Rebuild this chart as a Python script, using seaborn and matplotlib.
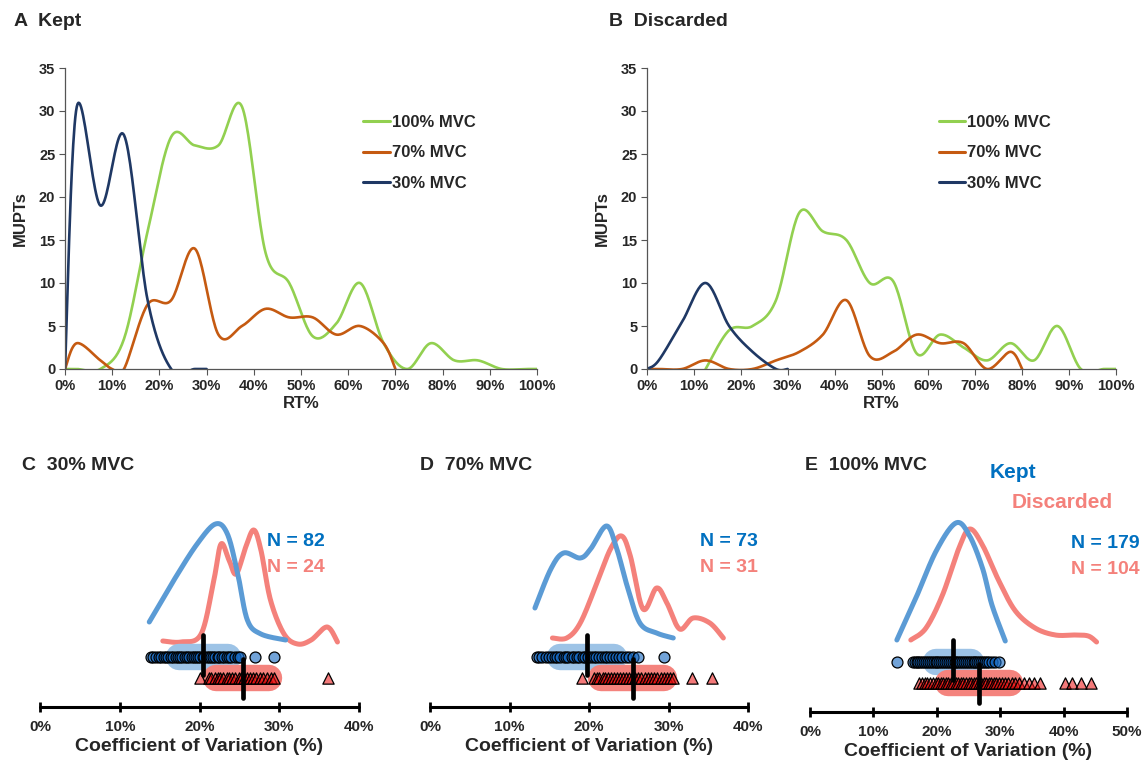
import numpy as np
import pandas as pd
import matplotlib
matplotlib.use("Agg")
import matplotlib.pyplot as plt
import seaborn as sns

# ---- top panels: MUPT counts per RT% bin ----
a_green_x = [0, 2.5, 7.5, 12.5, 17.5, 22.5, 27.5, 32.5, 37.5, 42.5, 47.5, 52.5, 57.5, 62.5, 67.5, 72.5, 77.5, 82.5, 87.5, 92.5, 97.5, 100]
a_green_y = [0, 0, 0, 3.5, 16, 27, 26, 26, 30.5, 13.5, 10, 3.8, 5.3, 10, 3, 0, 3, 1, 1, 0, 0, 0]
a_orange_x = [0, 2.5, 7.5, 10, 12.5, 17.5, 22.5, 27.5, 32.5, 37.5, 42.5, 47.5, 52.5, 57.5, 62.5, 67.5, 70]
a_orange_y = [0, 3, 1, 0, 0, 7.5, 8, 14, 4, 5, 7, 6, 6, 4, 5, 3, 0]
a_navy_x = [0, 2.5, 7.5, 12.5, 17.5, 22.5, 27.5, 30]
a_navy_y = [0, 30.5, 19, 27.2, 8, 0, 0, 0]

b_green_x = [12.5, 17.5, 22.5, 27.5, 32.5, 37.5, 42.5, 47.5, 52.5, 57.5, 62.5, 67.5, 72.5, 77.5, 82.5, 87.5, 92.5, 97.5, 100]
b_green_y = [0, 4.5, 5, 8, 18.2, 16, 15, 10, 10.2, 1.8, 4, 2.5, 1, 3, 1, 5, 0, 0, 0]
b_orange_x = [0, 2.5, 7.5, 12.5, 17.5, 22.5, 27.5, 32.5, 37.5, 42.5, 47.5, 52.5, 57.5, 62.5, 67.5, 72.5, 77.5, 80]
b_orange_y = [0, 0, 0, 1, 0, 0, 1, 2, 4, 8, 1.5, 2, 4, 3, 3, 0, 2, 0]
b_navy_x = [0, 2.5, 7.5, 12.5, 17.5, 22.5, 27.5, 30]
b_navy_y = [0, 1, 5.5, 10, 5, 2, 0, 0]

rt_ticks = [0, 10, 20, 30, 40, 50, 60, 70, 80, 90, 100]
mupt_ticks = [0, 5, 10, 15, 20, 25, 30, 35]

# ---- bottom panels: CV distributions (curve traces) ----
c_kept_cx = [13.7, 16.8, 19.7, 22.0, 23.5, 24.8, 26.0, 27.7, 30.8]
c_kept_cy = [85, 127, 163, 183, 173, 133, 87, 73, 67]
c_disc_cx = [15.4, 17.7, 20.2, 21.8, 22.7, 23.7, 24.6, 25.8, 26.8, 27.7, 28.9, 30.6, 32.3, 34.0, 36.0, 37.3]
c_disc_cy = [66, 65, 73, 127, 163, 147, 133, 160, 177, 157, 107, 73, 63, 67, 80, 65]
d_kept_cx = [13.2, 15.2, 16.8, 18.9, 20.2, 22.2, 23.5, 24.8, 26.4, 28.5, 30.6]
d_kept_cy = [99, 138, 154, 149, 158, 181, 158, 121, 84, 74, 69]
d_disc_cx = [15.4, 17.2, 18.9, 21.0, 22.7, 24.1, 25.2, 26.8, 28.5, 29.8, 31.4, 33.1, 35.2, 36.9]
d_disc_cy = [69, 69, 84, 124, 158, 171, 151, 98, 119, 104, 78, 89, 84, 69]
e_kept_cx = [13.7, 16.7, 19.9, 23.0, 25.1, 27.2, 28.7, 30.8]
e_kept_cy = [72, 114, 161, 189, 177, 144, 107, 71]
e_disc_cx = [15.9, 18.3, 20.9, 23.5, 25.2, 27.2, 29.8, 32.4, 35.5, 38.7, 41.8, 43.9, 45.2]
e_disc_cy = [72, 84, 117, 164, 183, 167, 131, 101, 84, 77, 77, 76, 70]

# individual CV values (read off the strips, overlapping ones estimated)
c_kept = [13.9, 14.2, 14.6, 14.9, 15.2, 15.5, 15.8, 16.1, 16.4, 16.7, 17.0, 17.3, 17.5, 17.8, 18.2, 18.4,
          18.7, 19.0, 19.3, 19.5, 19.8, 20.1, 20.4, 20.6, 20.9, 21.2, 21.4, 21.7, 22.0, 22.3, 22.5, 22.8,
          23.1, 23.4, 23.7, 24.0, 24.4, 24.8, 25.1, 27.0, 29.4]
c_disc = [20.0, 21.2, 21.5, 21.9, 22.3, 22.6, 23.0, 23.4, 23.7, 24.1, 24.5, 24.9, 25.2, 25.6, 26.0, 26.3,
          26.7, 27.1, 27.6, 28.0, 28.5, 29.0, 29.4, 36.1]
d_kept = [13.4, 13.7, 14.1, 14.6, 15.0, 15.3, 15.7, 16.0, 16.4, 16.8, 17.1, 17.4, 17.8, 18.1, 18.5, 18.8,
          19.2, 19.5, 19.9, 20.2, 20.6, 20.9, 21.3, 21.6, 22.0, 22.3, 22.7, 23.0, 23.4, 23.8, 24.2, 24.6,
          25.0, 25.5, 26.2, 29.4]
d_disc = [19.1, 20.6, 21.0, 21.3, 21.7, 22.0, 22.4, 22.8, 23.1, 23.5, 23.9, 24.3, 24.6, 25.0, 25.4, 25.8,
          26.2, 26.6, 27.0, 27.4, 27.8, 28.2, 28.6, 29.0, 29.4, 29.8, 30.2, 30.6, 33.0, 35.5]
e_kept = [13.7, 16.2, 16.5, 16.8, 17.1, 17.4, 17.7, 18.0, 18.3, 18.6, 18.9, 19.2, 19.5, 19.8, 20.1, 20.4,
          20.7, 21.0, 21.3, 21.6, 21.9, 22.2, 22.5, 22.8, 23.1, 23.4, 23.7, 24.0, 24.3, 24.6, 24.9, 25.2,
          25.5, 25.8, 26.1, 26.4, 26.7, 27.0, 27.3, 27.6, 27.9, 28.3, 28.7, 29.2, 29.8]
e_disc = [17.2, 17.6, 18.1, 18.5, 19.0, 19.4, 19.8, 20.2, 20.6, 21.0, 21.4, 21.8, 22.2, 22.6, 23.0, 23.4,
          23.8, 24.2, 24.6, 25.0, 25.4, 25.8, 26.2, 26.6, 27.0, 27.4, 27.8, 28.2, 28.6, 29.0, 29.4, 29.8,
          30.3, 30.8, 31.3, 31.8, 32.4, 33.0, 33.7, 34.5, 35.4, 36.3, 40.2, 41.4, 42.8, 44.3]

# mean and SD per group
c_mean = [20.5, 25.4]
c_sd = [3.1, 3.3]
d_mean = [19.7, 25.5]
d_sd = [3.4, 3.95]
e_mean = [22.6, 26.7]
e_sd = [2.8, 4.9]

n_labels = [("N = 82", "N = 24"), ("N = 73", "N = 31"), ("N = 179", "N = 104")]
panel_titles = ["C  30% MVC", "D  70% MVC", "E  100% MVC"]

GREEN, ORANGE, NAVY = "#92D050", "#C55A11", "#1F3864"
BLUE_LINE, RED_LINE = "#5B9BD5", "#F4817B"
BLUE_TXT, RED_TXT = "#0070C0", "#F4817B"


def smooth(xs, ys, n=24):
    # Excel-style smoothed line (uniform Catmull-Rom)
    p = np.column_stack([xs, ys]).astype(float)
    p = np.vstack([p[0], p, p[-1]])
    t = np.linspace(0, 1, n)[:, None]
    out = []
    for i in range(1, len(p) - 2):
        p0, p1, p2, p3 = p[i - 1], p[i], p[i + 1], p[i + 2]
        seg = 0.5 * ((2 * p1) + (-p0 + p2) * t + (2 * p0 - 5 * p1 + 4 * p2 - p3) * t ** 2
                     + (-p0 + 3 * p1 - 3 * p2 + p3) * t ** 3)
        out.append(seg if i == 1 else seg[1:])
    out = np.vstack(out)
    return pd.DataFrame({"x": out[:, 0], "y": out[:, 1]})


sns.set_theme(style="white")
plt.rcParams["font.family"] = ["Liberation Sans", "DejaVu Sans"]
plt.rcParams["font.weight"] = "bold"

W, H = 1148, 762
fig = plt.figure(figsize=(W / 100, H / 100), dpi=100)


def px(x0, y0, x1, y1):
    return [x0 / W, 1 - y1 / H, (x1 - x0) / W, (y1 - y0) / H]


top_specs = [
    (px(65, 68, 537, 369), "A  Kept", 14, 0.60,
     [(a_green_x, a_green_y, GREEN, "100% MVC"), (a_orange_x, a_orange_y, ORANGE, "70% MVC"),
      (a_navy_x, a_navy_y, NAVY, "30% MVC")]),
    (px(647, 68, 1116, 369), "B  Discarded", 609, 0.59,
     [(b_green_x, b_green_y, GREEN, "100% MVC"), (b_orange_x, b_orange_y, ORANGE, "70% MVC"),
      (b_navy_x, b_navy_y, NAVY, "30% MVC")]),
]

for rect, title, tx, lx, series in top_specs:
    ax = fig.add_axes(rect)
    for xs, ys, col, lab in series:
        df = smooth(xs, ys)
        sns.lineplot(data=df, x="x", y="y", ax=ax, color=col, lw=1.9, sort=False,
                     estimator=None, label=lab)
    ax.set_xlim(0, 100)
    ax.set_ylim(0, 35)
    ax.set_xticks(rt_ticks)
    ax.set_xticklabels([f"{v}%" for v in rt_ticks])
    ax.set_yticks(mupt_ticks)
    ax.tick_params(labelsize=10.5, length=4, width=0.8, color="#555555", pad=3,
                   bottom=True, left=True)
    for s in ["top", "right"]:
        ax.spines[s].set_visible(False)
    for s in ["left", "bottom"]:
        ax.spines[s].set_color("#555555")
        ax.spines[s].set_linewidth(0.9)
    ax.set_xlabel("RT%", fontsize=12, fontweight="bold", labelpad=2)
    ax.set_ylabel("MUPTs", fontsize=12, fontweight="bold", labelpad=8)
    leg = ax.legend(loc="upper left", bbox_to_anchor=(lx, 0.895), frameon=False,
                    fontsize=12, handlelength=1.6, handletextpad=0.1, labelspacing=0.95)
    for line in leg.get_lines():
        line.set_linewidth(2.2)
    fig.text(tx / W, 1 - 22 / H, title, fontsize=14, fontweight="bold", va="center")

bottom_specs = [
    (px(40, 507, 359, 707), 40, [0, 10, 20, 30, 40], c_kept_cx, c_kept_cy, c_disc_cx, c_disc_cy,
     c_kept, c_disc, c_mean, c_sd, 22, 325),
    (px(430, 507, 748, 707), 40, [0, 10, 20, 30, 40], d_kept_cx, d_kept_cy, d_disc_cx, d_disc_cy,
     d_kept, d_disc, d_mean, d_sd, 420, 758),
    (px(810, 512, 1127, 712), 50, [0, 10, 20, 30, 40, 50], e_kept_cx, e_kept_cy, e_disc_cx, e_disc_cy,
     e_kept, e_disc, e_mean, e_sd, 805, 1140),
]

KEPT_Y, DISC_Y = 50, 29

for i, (rect, xmax, ticks, kcx, kcy, dcx, dcy, kv, dv, mean, sd, tx, nx) in enumerate(bottom_specs):
    ax = fig.add_axes(rect)
    # distribution curves
    sns.lineplot(data=smooth(dcx, dcy), x="x", y="y", ax=ax, color=RED_LINE, lw=3.6,
                 sort=False, estimator=None)
    sns.lineplot(data=smooth(kcx, kcy), x="x", y="y", ax=ax, color=BLUE_LINE, lw=3.6,
                 sort=False, estimator=None)
    # mean +/- SD bands
    ax.plot([mean[0] - sd[0], mean[0] + sd[0]], [KEPT_Y, KEPT_Y], color="#9DC3E6", lw=19,
            solid_capstyle="round", zorder=2)
    ax.plot([mean[1] - sd[1], mean[1] + sd[1]], [DISC_Y, DISC_Y], color="#F4837D", lw=19,
            solid_capstyle="round", zorder=2)
    # individual values
    sns.scatterplot(x=kv, y=[KEPT_Y] * len(kv), ax=ax, marker="o", s=62,
                    color=(0.08, 0.40, 0.75, 0.6), edgecolor="black", linewidth=0.9, zorder=3)
    sns.scatterplot(x=dv, y=[DISC_Y] * len(dv), ax=ax, marker="^", s=66,
                    color=(0.92, 0.05, 0.05, 0.55), edgecolor="black", linewidth=0.9, zorder=3)
    # mean markers
    ax.plot([mean[0], mean[0]], [32, 72], color="black", lw=3.4, zorder=4)
    ax.plot([mean[1], mean[1]], [9, 48], color="black", lw=3.4, zorder=4)

    ax.set_xlim(0, xmax)
    ax.set_ylim(0, 200)
    ax.set_xticks(ticks)
    ax.set_xticklabels([f"{v}%" for v in ticks])
    ax.set_yticks([])
    ax.set_ylabel("")
    for s in ["top", "right", "left"]:
        ax.spines[s].set_visible(False)
    ax.spines["bottom"].set_color("black")
    ax.spines["bottom"].set_linewidth(2.2)
    ax.spines["bottom"].set_capstyle("round")
    ax.tick_params(axis="x", labelsize=11, direction="inout", length=7, width=2,
                   color="black", pad=6, bottom=True)
    ax.set_xlabel("Coefficient of Variation (%)", fontsize=14, fontweight="bold", labelpad=3)

    fig.text(tx / W, 1 - 466 / H, panel_titles[i], fontsize=14, fontweight="bold", va="center")
    ny = 541 if i < 2 else 543
    fig.text(nx / W, 1 - ny / H, n_labels[i][0], fontsize=14, fontweight="bold",
             color=BLUE_TXT, ha="right", va="center")
    fig.text(nx / W, 1 - (ny + 26) / H, n_labels[i][1], fontsize=14, fontweight="bold",
             color=RED_TXT, ha="right", va="center")

fig.text(1013 / W, 1 - 472 / H, "Kept", fontsize=15, fontweight="bold", color=BLUE_TXT,
         ha="center", va="center")
fig.text(1062 / W, 1 - 503 / H, "Discarded", fontsize=15, fontweight="bold", color=RED_TXT,
         ha="center", va="center")

fig.savefig("out.png", dpi=100)
